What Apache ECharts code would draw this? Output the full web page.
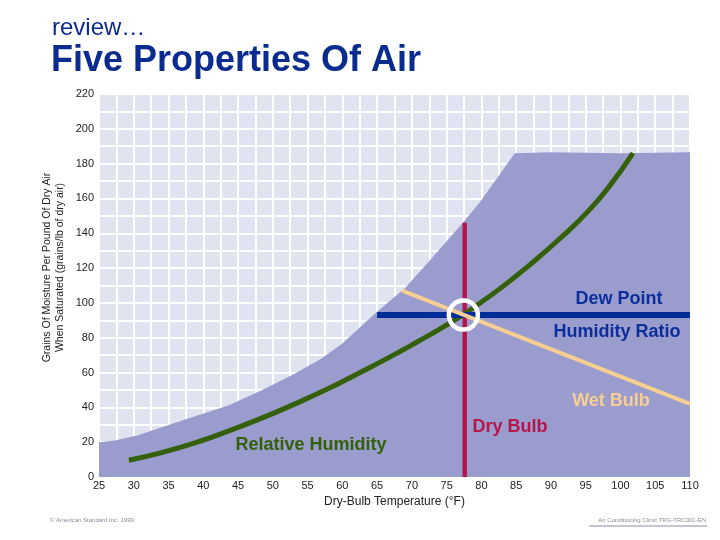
<!DOCTYPE html>
<html>
<head>
<meta charset="utf-8">
<style>html,body{margin:0;padding:0;background:#fff}#chart{width:720px;height:540px}</style>
<script src="https://cdn.jsdelivr.net/npm/echarts@6/dist/echarts.min.js"></script>
</head>
<body>
<div id="chart"></div>
<script>
// saturation boundary (filled region)
var satTemp = [25, 27.3, 30.6, 34.9, 38.8, 43.6, 48.4, 53.2, 57, 60, 64.9, 69, 72.6, 77.4, 79.8, 84.8, 90, 100, 110];
var satGrains = [20, 21, 24, 29.7, 34.9, 41, 49.8, 59.5, 68, 76.7, 94.7, 108.4, 124.5, 146.4, 158, 186, 186.5, 186, 186.5];
// relative humidity curve
var rhTemp = [29.3, 34, 38.8, 43.6, 48.4, 53.2, 58, 61.8, 66.4, 70.5, 75.5, 79.3, 83.1, 87, 91.3, 95.2, 98.5, 101.8];
var rhGrains = [9.6, 14, 19.6, 26.4, 33.8, 42, 50.8, 58.5, 68, 77, 88.5, 98.5, 109.5, 122, 137, 152, 167.5, 186];
// property lines through the state point
var dryBulbTemp = [77.6, 77.6];
var dryBulbGrains = [0, 146];
var ratioTemp = [65, 110];
var ratioGrains = [93, 93];
var wetTemp = [68.6, 110];
var wetGrains = [107, 42];
var statePoint = [77.4, 93];

function pairs(xs, ys) {
    return xs.map(function (x, i) { return [x, ys[i]]; });
}

function plainLine(name, xs, ys, color, width, z) {
    return {
        name: name, type: 'line', showSymbol: false, silent: true, z: z,
        data: pairs(xs, ys),
        lineStyle: { color: color, width: width, cap: 'butt' }
    };
}

function chartText(text, x, y, size, color, bold, align) {
    return {
        type: 'text', x: x, y: y, z: 100,
        style: {
            text: text, fill: color, align: align || 'center', verticalAlign: 'middle',
            font: (bold ? 'bold ' : '') + size + 'px "Liberation Sans", Arial, sans-serif'
        }
    };
}

var chart = echarts.init(document.getElementById('chart'));
var option = {
    animation: false,
    backgroundColor: '#fff',
    textStyle: { fontFamily: '"Liberation Sans", Arial, sans-serif' },
    grid: {
        left: 99, right: 30, top: 94, bottom: 63,
        show: true, backgroundColor: '#E2E3F1', borderWidth: 0
    },
    xAxis: {
        type: 'value', min: 25, max: 110, interval: 5,
        name: 'Dry-Bulb Temperature (°F)', nameLocation: 'middle', nameGap: 16,
        nameTextStyle: { fontSize: 12, color: '#222' },
        axisLine: { show: false }, axisTick: { show: false },
        axisLabel: { fontSize: 11, color: '#222', margin: 3 },
        splitLine: { show: true, lineStyle: { color: '#fff', width: 2 } },
        minorTick: { show: false, splitNumber: 2 },
        minorSplitLine: { show: true, lineStyle: { color: '#fff', width: 2 } }
    },
    yAxis: {
        type: 'value', min: 0, max: 220, interval: 20,
        name: 'Grains Of Moisture Per Pound Of Dry Air\nWhen Saturated (grains/lb of dry air)',
        nameLocation: 'middle', nameGap: 32, nameRotate: 90, nameMoveOverlap: false,
        nameTextStyle: { fontSize: 10.5, color: '#222', lineHeight: 13, padding: [0, 0, 0, 36] },
        axisLine: { show: false }, axisTick: { show: false },
        axisLabel: { fontSize: 11, color: '#222', margin: 5 },
        splitLine: { show: true, lineStyle: { color: '#fff', width: 2 } },
        minorTick: { show: false, splitNumber: 2 },
        minorSplitLine: { show: true, lineStyle: { color: '#fff', width: 2 } }
    },
    series: [
        {
            name: 'Saturation', type: 'line', showSymbol: false, silent: true, z: 2,
            data: pairs(satTemp, satGrains),
            lineStyle: { width: 0 },
            areaStyle: { color: '#9A9CCE', opacity: 1 }
        },
        plainLine('Dry Bulb', dryBulbTemp, dryBulbGrains, '#B5154B', 4.4, 3),
        {
            name: 'Relative Humidity', type: 'line', showSymbol: false, silent: true, z: 4,
            smooth: 0.5,
            data: pairs(rhTemp, rhGrains),
            lineStyle: { color: '#336008', width: 5, cap: 'butt' }
        },
        plainLine('Humidity Ratio', ratioTemp, ratioGrains, '#002C98', 6, 5),
        plainLine('Wet Bulb', wetTemp, wetGrains, '#F8CE92', 4, 6),
        {
            name: 'State', type: 'scatter', silent: true, z: 7,
            data: [statePoint],
            symbol: 'circle', symbolSize: 29,
            itemStyle: { color: 'rgba(0,0,0,0)', borderColor: '#fff', borderWidth: 4.5, opacity: 1 }
        }
    ],
    graphic: [
        chartText('review…', 52, 28, 24, '#0A2C8E', false, 'left'),
        chartText('Five Properties Of Air', 51, 61, 36, '#0A2C8E', true, 'left'),
        chartText('Dew Point', 619, 299, 18, '#0B2E9B', true),
        chartText('Humidity Ratio', 617, 332, 18, '#0B2E9B', true),
        chartText('Wet Bulb', 611, 401, 18, '#F8CE92', true),
        chartText('Dry Bulb', 510, 427, 18, '#B5154B', true),
        chartText('Relative Humidity', 311, 445, 18, '#336008', true),
        chartText('© American Standard Inc. 1999', 50, 520, 6, '#8A8A9E', false, 'left'),
        chartText('Air Conditioning Clinic TRG-TRC001-EN', 706, 520, 6, '#8A8A9E', false, 'right'),
        {
            type: 'line', z: 100,
            shape: { x1: 589, y1: 526, x2: 707, y2: 526 },
            style: { stroke: '#8A8AA8', lineWidth: 1 }
        }
    ]
};
chart.setOption(option);
</script>
</body>
</html>
